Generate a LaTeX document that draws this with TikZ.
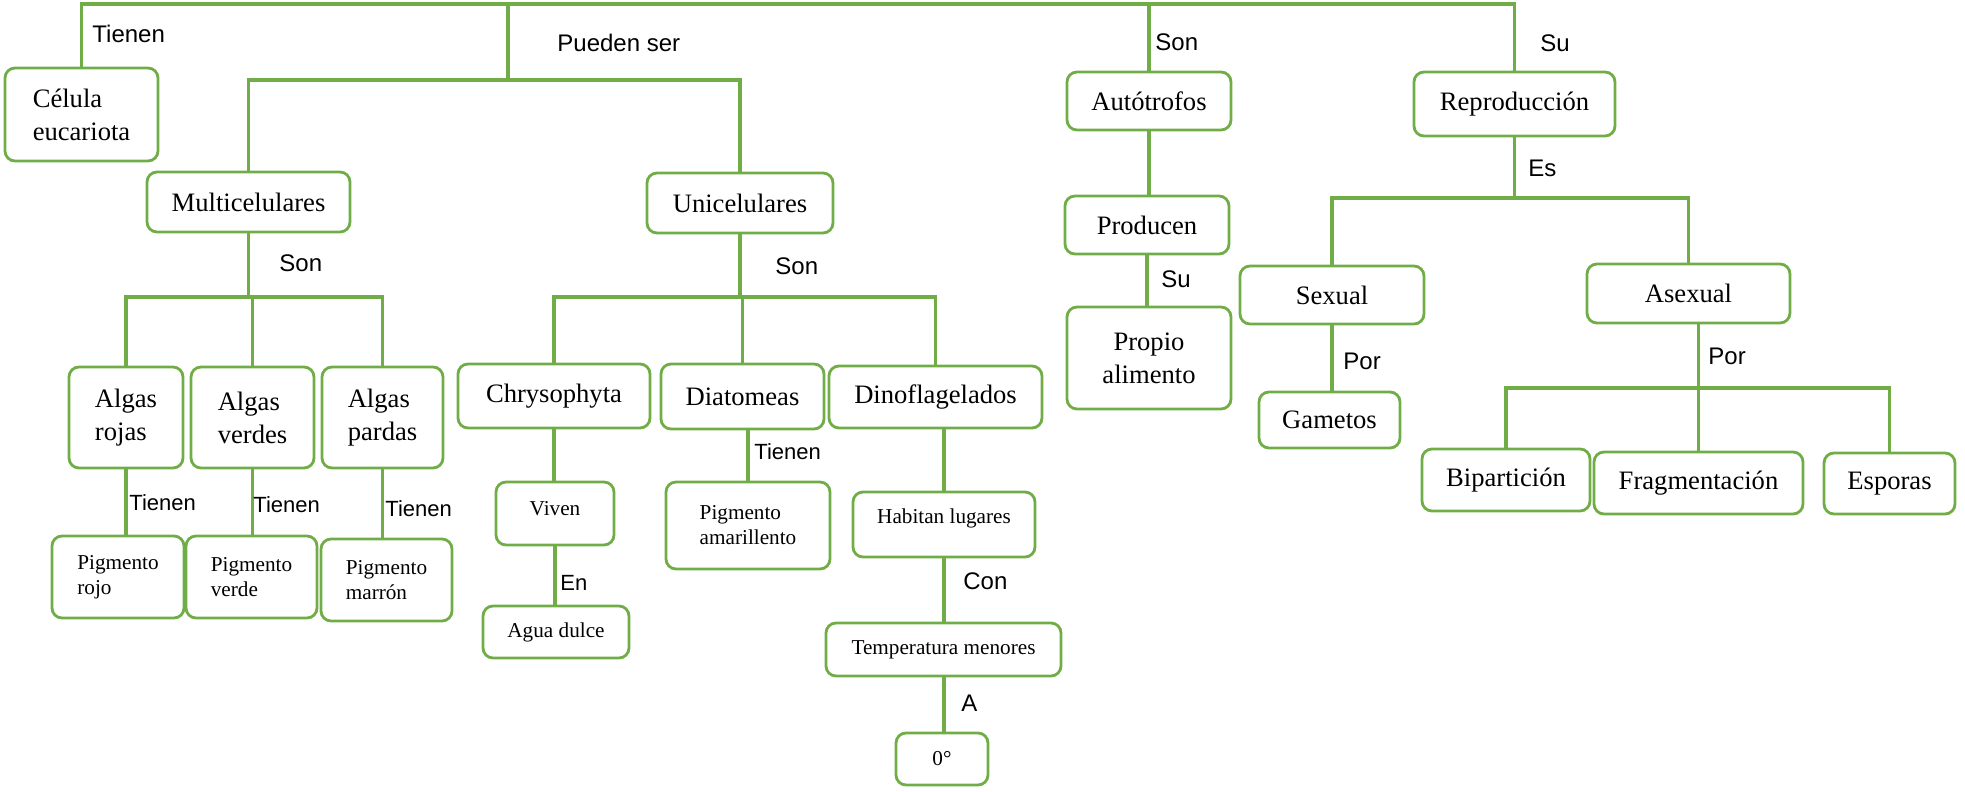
\documentclass[tikz,border=0pt]{standalone}
\usepackage{fontspec}
\setmainfont{Liberation Serif}
\newfontfamily\labfont{Liberation Sans}
\definecolor{grn}{HTML}{70AD47}
\begin{document}
\begin{tikzpicture}[x=0.5pt,y=-0.5pt,
  box/.style={draw=grn, line width=1.4pt, rounded corners=5pt, inner sep=0pt,
    font=\fontsize{13.3}{16.5}\selectfont, align=center},
  sm/.style={font=\fontsize{10.6}{12.5}\selectfont},
  conn/.style={draw=grn, line width=1.75pt},
  lab/.style={anchor=west, inner sep=0pt, font=\labfont\fontsize{12}{14}\selectfont},
  labs/.style={anchor=west, inner sep=0pt, font=\labfont\fontsize{11}{13}\selectfont}]
\useasboundingbox (0,0) rectangle (1965,792);

% boxes
\node[box, align=left, minimum width=76.5pt, minimum height=46.5pt] (cel) at (81.5,114.5) {Célula\\eucariota};
\node[box, minimum width=101.5pt, minimum height=30pt] (multi) at (248.5,202) {Multicelulares};
\node[box, minimum width=93pt, minimum height=30pt] (uni) at (740,203) {Unicelulares};
\node[box, minimum width=82pt, minimum height=29pt] (auto) at (1149,101) {Autótrofos};
\node[box, minimum width=82pt, minimum height=29pt] (prod) at (1147,225) {Producen};
\node[box, minimum width=82pt, minimum height=51pt] (propio) at (1149,358) {Propio\\alimento};
\node[box, minimum width=100.5pt, minimum height=32pt] (repro) at (1514.5,104) {Reproducción};
\node[box, minimum width=92pt, minimum height=29pt] (sexual) at (1332,295) {Sexual};
\node[box, minimum width=101.5pt, minimum height=29.5pt] (asexual) at (1688.5,293.5) {Asexual};
\node[box, minimum width=70.5pt, minimum height=28pt] (gametos) at (1329.5,420) {Gametos};
\node[box, minimum width=84pt, minimum height=31pt] (bipart) at (1506,480) {Bipartición};
\node[box, minimum width=104.5pt, minimum height=31pt] (frag) at (1698.5,483) {Fragmentación};
\node[box, minimum width=65.5pt, minimum height=30.5pt] (esporas) at (1889.5,483.5) {Esporas};

\node[box, align=left, minimum width=57pt, minimum height=50.5pt] (arojas) at (126,417.5) {Algas\\rojas};
\node[box, align=left, minimum width=61.5pt, minimum height=50.5pt] (averdes) at (252.5,417.5) {Algas\\verdes};
\node[box, align=left, minimum width=60.5pt, minimum height=50.5pt] (apardas) at (382.5,417.5) {Algas\\pardas};
\node[box, sm, align=left, minimum width=66pt, minimum height=41pt] (projo) at (118,577) {Pigmento\\rojo};
\node[box, sm, align=left, minimum width=65.5pt, minimum height=41pt] (pverde) at (251.5,577) {Pigmento\\verde};
\node[box, sm, align=left, minimum width=65.5pt, minimum height=41pt] (pmarron) at (386.5,580) {Pigmento\\marrón};

\node[box, minimum width=96pt, minimum height=32pt] (chryso) at (554,396) {Chrysophyta};
\node[box, minimum width=81.5pt, minimum height=32.5pt] (diato) at (742.5,396.5) {Diatomeas};
\node[box, minimum width=106.5pt, minimum height=31pt] (dino) at (935.5,397) {Dinoflagelados};
\node[box, sm, minimum width=59pt, minimum height=31.5pt] (viven) at (555,513.5) {\raisebox{2.5pt}[\height][\depth]{Viven}};
\node[box, sm, minimum width=73pt, minimum height=26pt] (agua) at (556,632) {Agua dulce};
\node[box, sm, align=left, minimum width=82pt, minimum height=43.5pt] (pamar) at (748,525.5) {Pigmento\\amarillento};
\node[box, sm, minimum width=91pt, minimum height=32.5pt] (habitan) at (944,524.5) {\raisebox{3pt}[\height][\depth]{Habitan lugares}};
\node[box, sm, minimum width=117.5pt, minimum height=26.5pt] (temp) at (943.5,649.5) {Temperatura menores};
\node[box, sm, minimum width=46pt, minimum height=26pt] (zero) at (942,759) {0°};

% helper coordinates
\coordinate (ytop) at (0,4);
\coordinate (y2) at (0,80);
\coordinate (ps) at (508,4);
\coordinate (y3) at (0,297);
\coordinate (y4) at (0,198);
\coordinate (y5) at (0,388);

% connectors
\draw[conn] (cel.north) |- (repro.north |- ytop) -- (repro.north);
\draw[conn] (auto.north |- ytop) -- (auto.north);
\draw[conn] (ps) -- (ps |- y2);
\draw[conn] (multi.north) |- (uni.north |- y2) -- (uni.north);

\draw[conn] (multi.south) -- (multi.south |- y3);
\draw[conn] (arojas.north) |- (apardas.north |- y3) -- (apardas.north);
\draw[conn] (averdes.north |- y3) -- (averdes.north);
\draw[conn] (arojas.south) -- (arojas.south |- projo.north);
\draw[conn] (averdes.south) -- (averdes.south |- pverde.north);
\draw[conn] (apardas.south) -- (apardas.south |- pmarron.north);

\draw[conn] (uni.south) -- (uni.south |- y3);
\draw[conn] (chryso.north) |- (dino.north |- y3) -- (dino.north);
\draw[conn] (diato.north |- y3) -- (diato.north);
\draw[conn] (chryso.south) -- (chryso.south |- viven.north);
\draw[conn] (viven.south) -- (viven.south |- agua.north);
\draw[conn] (pamar.north |- diato.south) -- (pamar.north);
\draw[conn] (habitan.north |- dino.south) -- (habitan.north);
\draw[conn] (habitan.south) -- (habitan.south |- temp.north);
\draw[conn] (temp.south -| habitan.south) -- (zero.north -| habitan.south);

\draw[conn] (auto.south) -- (auto.south |- prod.north);
\draw[conn] (prod.south) -- (prod.south |- propio.north);

\draw[conn] (repro.south) -- (repro.south |- y4);
\draw[conn] (sexual.north) |- (asexual.north |- y4) -- (asexual.north);
\draw[conn] (sexual.south) -- (sexual.south |- gametos.north);
\draw[conn] (frag.north |- asexual.south) -- (frag.north);
\draw[conn] (bipart.north) |- (esporas.north |- y5) -- (esporas.north);

% labels
\node[lab] (l1) at (92,34) {Tienen};
\node[lab] (l2) at (557,43) {Pueden ser};
\node[lab] (l3) at (1155,42) {Son};
\node[lab] (l4) at (1540,43) {Su};
\node[lab] (l5) at (279,263) {Son};
\node[lab] (l6) at (775,266) {Son};
\node[lab] (l7) at (1528,168) {Es};
\node[lab] (l8) at (1161,279) {Su};
\node[lab] (l9) at (1343,361) {Por};
\node[lab] (l10) at (1708,356) {Por};
\node[labs] (l11) at (129,503) {Tienen};
\node[labs] (l12) at (253,505) {Tienen};
\node[labs] (l13) at (385,509) {Tienen};
\node[labs] (l14) at (560,583) {En};
\node[labs] (l15) at (754,452) {Tienen};
\node[lab] (l16) at (963,581) {Con};
\node[lab] (l17) at (961,703) {A};
\end{tikzpicture}
\end{document}
